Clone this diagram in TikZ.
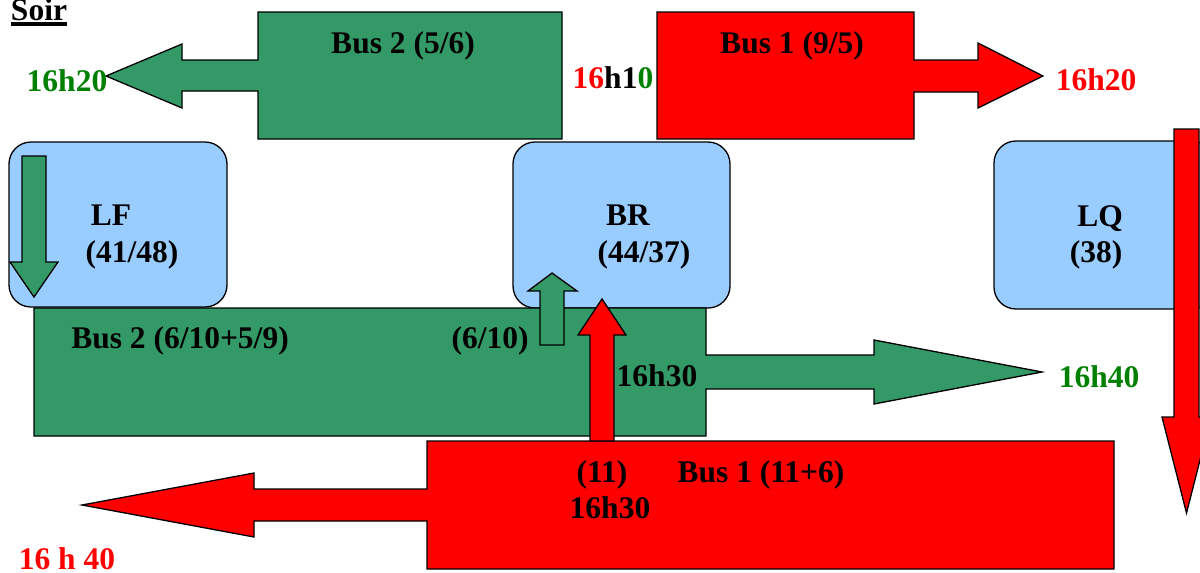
\documentclass[tikz,border=0pt]{standalone}
\usepackage{fontspec}
\setmainfont{Liberation Serif}
\definecolor{busgreen}{RGB}{51,153,102}
\definecolor{busred}{RGB}{255,0,0}
\definecolor{boxblue}{RGB}{153,204,255}
\definecolor{txtgreen}{RGB}{0,128,0}
\tikzset{
  shapeline/.style={draw=black, line width=1.3pt, line join=miter},
  greenshape/.style={shapeline, fill=busgreen},
  redshape/.style={shapeline, fill=busred},
  stopbox/.style={shapeline, fill=boxblue, rounded corners=22pt},
  lbl/.style={anchor=base, inner sep=0pt, font=\fontsize{31.5}{36}\selectfont\bfseries},
}
\begin{document}
\begin{tikzpicture}[x=1pt,y=-1pt]
\useasboundingbox (0,0) rectangle (1200,573);
% stop boxes
\draw[stopbox] (9,142) rectangle (227,307);
\draw[stopbox] (513,142) rectangle (730,308);
\draw[stopbox] (994,141) rectangle (1214,309);
% top-left green callout (Bus 2 (5/6))
\draw[greenshape] (258,12) -- (562,12) -- (562,139) -- (258,139) -- (258,91) -- (182,91) -- (182,108) -- (106,76) -- (182,44) -- (182,60) -- (258,60) -- cycle;
% top-right red callout (Bus 1 (9/5))
\draw[redshape] (657,12) -- (914,12) -- (914,60) -- (978,60) -- (978,43) -- (1043,76) -- (978,108) -- (978,92) -- (914,92) -- (914,139) -- (657,139) -- cycle;
% middle green callout
\draw[greenshape] (34,308) -- (706,308) -- (706,355) -- (874,355) -- (874,340) -- (1042,372) -- (874,404) -- (874,389) -- (706,389) -- (706,436) -- (34,436) -- cycle;
% bottom red callout
\draw[redshape] (427,441) -- (1114,441) -- (1114,569) -- (427,569) -- (427,521) -- (254,521) -- (254,537) -- (82,505) -- (254,473) -- (254,489) -- (427,489) -- cycle;
% small arrows
\draw[greenshape] (22,156) -- (46,156) -- (46,262) -- (58,262) -- (34,297) -- (10,262) -- (22,262) -- cycle;
\draw[greenshape] (540,345) -- (540,291) -- (528,291) -- (552,273) -- (577,291) -- (564,291) -- (564,345) -- cycle;
\draw[redshape] (590,441) -- (590,335) -- (578,335) -- (602,299) -- (626,335) -- (614,335) -- (614,441) -- cycle;
\draw[redshape] (1174,129) -- (1199,129) -- (1199,417) -- (1211,417) -- (1186.5,513) -- (1162,417) -- (1174,417) -- cycle;
% texts
\node[lbl] (soir) at (39,20) {Soir};
\draw[line width=3.2pt] (11,24) -- (67,24);
\node[lbl, text=txtgreen] (t1620g) at (67,91) {16h20};
\node[lbl] (t1610) at (613,88) {\textcolor{busred}{16}h1\textcolor{txtgreen}{0}};
\node[lbl, text=busred] (t1620r) at (1096,90) {16h20};
\node[lbl] (bus2a) at (403,53) {Bus 2 (5/6)};
\node[lbl] (bus1a) at (792,53) {Bus 1 (9/5)};
\node[lbl] (lf) at (111,225) {LF};
\node[lbl] (lfn) at (132,262) {(41/48)};
\node[lbl] (br) at (628,225) {BR};
\node[lbl] (brn) at (644,262) {(44/37)};
\node[lbl] (lq) at (1100,226) {LQ};
\node[lbl] (lqn) at (1096,262) {(38)};
\node[lbl] (bus2b) at (180,348) {Bus 2 (6/10+5/9)};
\node[lbl] (n610) at (490,348) {(6/10)};
\node[lbl] (t1630a) at (657,386) {16h30};
\node[lbl, text=txtgreen] (t1640g) at (1099,387) {16h40};
\node[lbl] (n11) at (602,482) {(11)};
\node[lbl] (bus1b) at (761,482) {Bus 1 (11+6)};
\node[lbl] (t1630b) at (610,518) {16h30};
\node[lbl, text=busred] (t1640r) at (67,569) {16 h 40};
\end{tikzpicture}
\end{document}
